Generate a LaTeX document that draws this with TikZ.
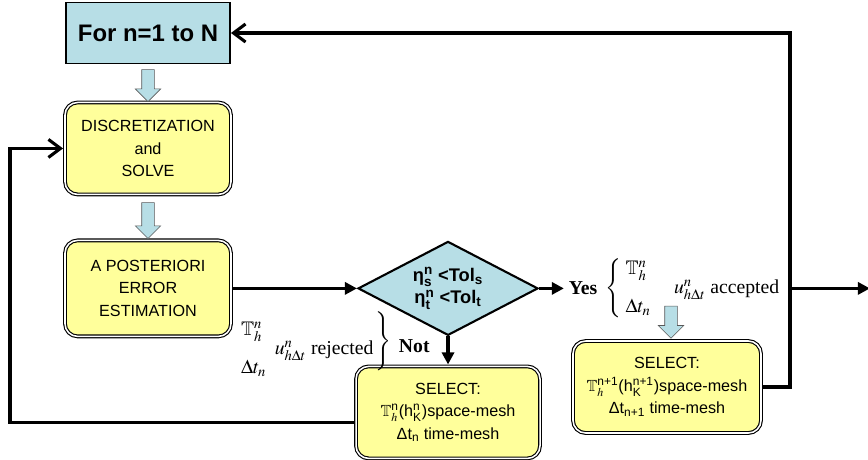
\documentclass[tikz,border=0pt]{standalone}
\usepackage{amsmath,amssymb}
\usepackage{mathptmx}
\usepackage{fontspec}
\setmainfont{Liberation Serif}
\setsansfont{Liberation Sans}
\usetikzlibrary{arrows.meta, positioning, shapes.geometric, shapes.arrows, calc}
\definecolor{lblue}{RGB}{183,222,230}
\definecolor{lyell}{RGB}{255,255,155}

\begin{document}
\begin{tikzpicture}[
    cbox/.style={draw, line width=1.4pt, fill=lblue, minimum width=4.1cm, minimum height=1.525cm,
                 font=\sffamily\bfseries\fontsize{17}{20}\selectfont},
    ybox/.style={draw, line width=0.8pt, double=white, double distance=1.1pt, outer sep=1.4pt,
                 rounded corners=9pt, fill=lyell, align=center,
                 font=\sffamily\fontsize{11.5}{16}\selectfont},
    cond/.style={diamond, draw, line width=1.5pt, fill=lblue, aspect=1.9, inner sep=1pt,
                 minimum width=4.5cm, minimum height=2.35cm, align=center,
                 font=\sffamily\bfseries\fontsize{13}{16}\selectfont},
    blk/.style={single arrow, rotate=-90, draw=gray!70!black, fill=lblue, inner sep=0pt,
                inner ysep=0.15cm, minimum height=0.8cm, minimum width=0.62cm,
                single arrow head extend=0.16cm},
    fl/.style={-{Triangle[length=3mm, width=3mm]}, line width=2.2pt},
    back/.style={-{Straight Barb[length=3mm, width=4.5mm]}, line width=2.2pt},
    mth/.style={font=\fontsize{14}{17}\selectfont, inner sep=2pt},
    bld/.style={font=\bfseries\fontsize{14}{17}\selectfont}
]
    \useasboundingbox (0,0) rectangle (21.7,-11.475);

    \node[cbox] (for) at (3.7,-0.825) {For n=1 to N};
    \node[ybox, minimum width=4.15cm, minimum height=2.3cm, below=0.9cm of for] (disc)
        {DISCRETIZATION\\and\\SOLVE};
    \node[ybox, minimum width=4.15cm, minimum height=2.4cm, below=1.05cm of disc] (post)
        {A POSTERIORI\\ERROR\\ESTIMATION};
    \node[blk] (a1) at ($(for.south)!0.5!(disc.north)$) {};
    \node[blk, minimum height=0.9cm] (a2) at ($(disc.south)!0.5!(post.north)$) {};

    % error test
    \node[cond, right=3.1cm of post] (dia)
        {$\text{η}^{\text{n}}_{\text{s}}$ <Tol$_{\text{s}}$\\$\text{η}^{\text{n}}_{\text{t}}$ <Tol$_{\text{t}}$};
    \node[ybox, minimum width=4.6cm, minimum height=2.3cm, below=0.7cm of dia] (bsel)
        {SELECT:\\$\mathbb{T}^{\text{n}}_{h}$(h$^{\text{n}}_{\text{K}}$)space-mesh\\Δt$_{\text{n}}$ time-mesh};

    % accepted branch
    \node[bld, right=0.62cm of dia] (yes) {Yes};
    \node[mth, right=0cm of yes] (acc)
        {$\left\{\begin{array}{@{\;}l@{}}\mathbb{T}^n_h\\[10pt]\Delta t_n\end{array}\right.\quad u^n_{h\Delta t}$ accepted};
    \node[ybox, minimum width=4.7cm, minimum height=2.3cm] (rsel) at (16.675,-9.675)
        {SELECT:\\$\mathbb{T}^{\text{n+1}}_{h}$(h$^{\text{n+1}}_{\text{K}}$)space-mesh\\Δt$_{\text{n+1}}$ time-mesh};
    \node[blk] (a3) at ($(rsel.north)+(0.1,0.5)$) {};

    % rejected branch
    \node[mth, anchor=east] (rej) at (9.85,-8.65)
        {$\begin{array}{@{}l@{}}\mathbb{T}^n_h\\[10pt]\Delta t_n\end{array}\;\; u^n_{h\Delta t}$ rejected%
         \raisebox{6pt}{$\left.\vphantom{\begin{array}{l}x\\[4pt]x\end{array}}\right\}$}};
    \node[bld, right=0cm of rej] (no) {Not};

    \coordinate (jn) at ($(rsel.east)+(0.675,0)$);
    \coordinate (out) at ($(jn |- dia.east)+(2.0,0)$);
    \coordinate (lft) at (0.25,0);

    \draw[fl] (post) -- (dia);
    \draw[fl] (dia.east) -- (yes.west);
    \draw[fl] (dia.south) -- (bsel.north);
    \draw[fl] (jn |- dia.east) -- (out);
    \draw[back] (rsel.east) -- (jn) |- (for.east);
    \draw[back] ([yshift=-0.25cm]bsel.west) -| (lft |- disc.west) -- (disc.west);
\end{tikzpicture}
\end{document}
